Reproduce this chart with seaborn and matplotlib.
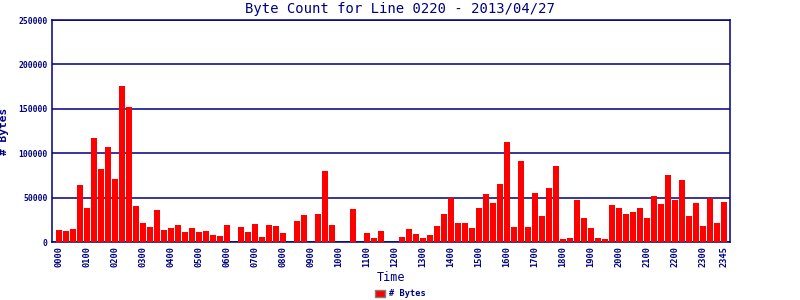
import matplotlib
matplotlib.use("Agg")
import matplotlib.pyplot as plt
import seaborn as sns
import pandas as pd
from matplotlib.patches import Patch

times = [f"{h:02d}{m:02d}" for h in range(24) for m in (0, 15, 30, 45)]
bytes_count = [
    13900, 12800, 15000, 64700, 38700, 117700, 82700, 107500,
    71400, 176300, 152600, 41000, 21800, 17300, 36500, 13900,
    16200, 19500, 11700, 16200, 11700, 12800, 8300, 7100,
    19500, 0, 17300, 11700, 20700, 6000, 19500, 18400,
    10500, 0, 24100, 30800, 0, 32000, 80500, 19500,
    0, 0, 37600, 0, 10500, 4900, 12800, 0,
    0, 6000, 15000, 9400, 4900, 8300, 18400, 32000,
    50000, 21800, 21800, 16200, 38700, 54500, 44400, 65800,
    113200, 17300, 91700, 17300, 55600, 29700, 61300, 86100,
    3800, 4900, 47700, 27400, 16200, 4900, 3800, 42100,
    38700, 32000, 34200, 38700, 27400, 52300, 43200, 75900,
    47700, 70300, 29700, 44400, 18400, 50000, 21800, 45500,
]
yticks = [0, 50000, 100000, 150000, 200000, 250000]

NAVY = "#000080"
sns.set_style("white")
plt.rcParams["font.family"] = ["DejaVu Sans Mono", "DejaVu Sans"]

df = pd.DataFrame({"Time": times, "Bytes": bytes_count})

fig = plt.figure(figsize=(8, 3), dpi=100)
ax = fig.add_axes([0.065, 0.193, 0.8475, 0.74])
sns.barplot(data=df, x="Time", y="Bytes", order=times, color="#ff0000",
            saturation=1, width=0.86, ax=ax, linewidth=0, zorder=3)

ax.set_ylim(0, 250000)
ax.set_xlim(-1.0, 95.85)
ax.set_yticks(yticks)
ax.set_yticklabels([str(v) for v in yticks], fontsize=5.8, color=NAVY,
                   fontweight="bold")
ax.yaxis.grid(True, color=NAVY, linewidth=1.1, zorder=1)
ax.set_axisbelow(True)

tick_idx = [i for i in range(len(times)) if i % 4 == 0] + [len(times) - 1]
ax.set_xticks(tick_idx)
ax.set_xticklabels([times[i] for i in tick_idx], rotation=90, fontsize=6.2,
                   color=NAVY, fontweight="bold")
ax.tick_params(axis="both", length=0, pad=3)

for s in ax.spines.values():
    s.set_color(NAVY)
    s.set_linewidth(1.1)
    s.set_visible(True)

ax.set_xlabel("Time", color=NAVY, fontsize=8.5, labelpad=3)
ax.set_ylabel("# Bytes", color=NAVY, fontsize=8, fontweight="bold")
ax.yaxis.set_label_coords(-0.063, 0.5)
fig.suptitle("Byte Count for Line 0220 - 2013/04/27", color=NAVY,
             fontsize=10, y=0.995)

handles = [Patch(facecolor="#ff0000", edgecolor="#808080", linewidth=1)]
fig.legend(handles, ["# Bytes"], loc="lower center", bbox_to_anchor=(0.5, -0.02),
           frameon=False, handlelength=1.2, handleheight=0.8,
           handletextpad=0.4, labelcolor=NAVY, prop={"weight": "bold", "size": 6.2})

fig.savefig("out.png", dpi=100)
